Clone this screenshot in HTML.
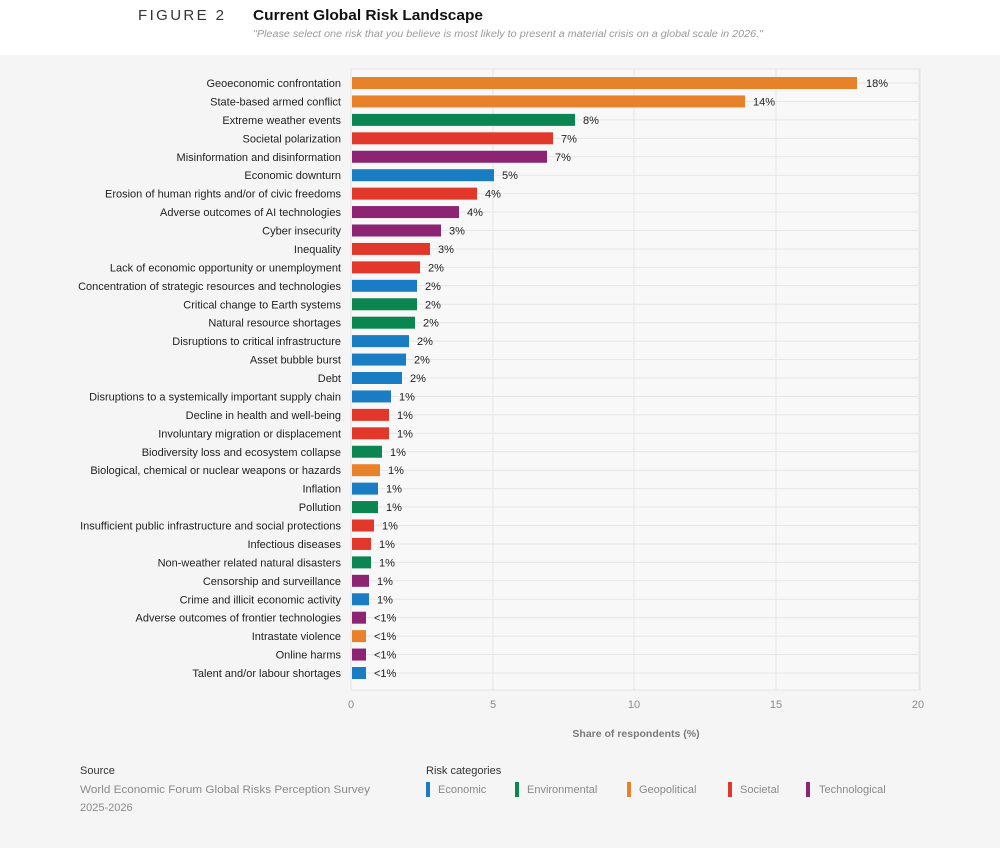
<!DOCTYPE html>
<html><head><meta charset="utf-8"><style>
html,body{margin:0;padding:0;background:#fff;}
svg{display:block;font-family:"Liberation Sans",Arial,sans-serif;}
.lb{font-size:11px;fill:#222;text-anchor:end;}
.vl{font-size:11px;fill:#222;}
.gl{stroke:#e6e6e6;stroke-width:1;}
</style></head><body>
<svg width="1000" height="848" viewBox="0 0 1000 848" xmlns="http://www.w3.org/2000/svg">
<rect x="0" y="0" width="1000" height="848" fill="#ffffff"/>
<rect x="0" y="55" width="1000" height="793" fill="#f5f5f5"/>
<text x="138" y="20" font-size="15" fill="#333" letter-spacing="2.4">FIGURE 2</text>
<text x="253" y="20" font-size="15" font-weight="bold" fill="#111" textLength="230" lengthAdjust="spacingAndGlyphs">Current Global Risk Landscape</text>
<text x="253" y="37" font-size="10" font-style="italic" fill="#9a9a9a" textLength="510" lengthAdjust="spacingAndGlyphs">"Please select one risk that you believe is most likely to present a material crisis on a global scale in 2026."</text>

<rect x="351" y="69" width="569" height="621" fill="#f8f8f8" stroke="#e4e4e4" stroke-width="1"/>
<g class="gl">
<line x1="493" y1="69" x2="493" y2="690"/>
<line x1="634" y1="69" x2="634" y2="690"/>
<line x1="776" y1="69" x2="776" y2="690"/>
<line x1="919" y1="69" x2="919" y2="690"/>
</g>
<g class="gl">
<line x1="351" x2="920" y1="83" y2="83"/><line x1="351" x2="920" y1="101.44" y2="101.44"/><line x1="351" x2="920" y1="119.88" y2="119.88"/><line x1="351" x2="920" y1="138.31" y2="138.31"/><line x1="351" x2="920" y1="156.75" y2="156.75"/><line x1="351" x2="920" y1="175.19" y2="175.19"/><line x1="351" x2="920" y1="193.63" y2="193.63"/><line x1="351" x2="920" y1="212.06" y2="212.06"/><line x1="351" x2="920" y1="230.5" y2="230.5"/><line x1="351" x2="920" y1="248.94" y2="248.94"/><line x1="351" x2="920" y1="267.38" y2="267.38"/><line x1="351" x2="920" y1="285.81" y2="285.81"/><line x1="351" x2="920" y1="304.25" y2="304.25"/><line x1="351" x2="920" y1="322.69" y2="322.69"/><line x1="351" x2="920" y1="341.13" y2="341.13"/><line x1="351" x2="920" y1="359.56" y2="359.56"/><line x1="351" x2="920" y1="378" y2="378"/><line x1="351" x2="920" y1="396.44" y2="396.44"/><line x1="351" x2="920" y1="414.88" y2="414.88"/><line x1="351" x2="920" y1="433.31" y2="433.31"/><line x1="351" x2="920" y1="451.75" y2="451.75"/><line x1="351" x2="920" y1="470.19" y2="470.19"/><line x1="351" x2="920" y1="488.63" y2="488.63"/><line x1="351" x2="920" y1="507.06" y2="507.06"/><line x1="351" x2="920" y1="525.5" y2="525.5"/><line x1="351" x2="920" y1="543.94" y2="543.94"/><line x1="351" x2="920" y1="562.38" y2="562.38"/><line x1="351" x2="920" y1="580.81" y2="580.81"/><line x1="351" x2="920" y1="599.25" y2="599.25"/><line x1="351" x2="920" y1="617.69" y2="617.69"/><line x1="351" x2="920" y1="636.13" y2="636.13"/><line x1="351" x2="920" y1="654.56" y2="654.56"/><line x1="351" x2="920" y1="673" y2="673"/>
</g>

<g transform="translate(0,83)"><text class="lb" x="341" y="4">Geoeconomic confrontation</text><rect x="352" y="-6" width="505" height="12" fill="#e8822a"/><text class="vl" x="866" y="4">18%</text></g>
<g transform="translate(0,101.44)"><text class="lb" x="341" y="4">State-based armed conflict</text><rect x="352" y="-6" width="393" height="12" fill="#e8822a"/><text class="vl" x="753" y="4">14%</text></g>
<g transform="translate(0,119.88)"><text class="lb" x="341" y="4">Extreme weather events</text><rect x="352" y="-6" width="223" height="12" fill="#0b8650"/><text class="vl" x="583" y="4">8%</text></g>
<g transform="translate(0,138.31)"><text class="lb" x="341" y="4">Societal polarization</text><rect x="352" y="-6" width="201" height="12" fill="#e2382c"/><text class="vl" x="561" y="4">7%</text></g>
<g transform="translate(0,156.75)"><text class="lb" x="341" y="4">Misinformation and disinformation</text><rect x="352" y="-6" width="195" height="12" fill="#8c2473"/><text class="vl" x="555" y="4">7%</text></g>
<g transform="translate(0,175.19)"><text class="lb" x="341" y="4">Economic downturn</text><rect x="352" y="-6" width="142" height="12" fill="#1a7dc4"/><text class="vl" x="502" y="4">5%</text></g>
<g transform="translate(0,193.63)"><text class="lb" x="341" y="4">Erosion of human rights and/or of civic freedoms</text><rect x="352" y="-6" width="125" height="12" fill="#e2382c"/><text class="vl" x="485" y="4">4%</text></g>
<g transform="translate(0,212.06)"><text class="lb" x="341" y="4">Adverse outcomes of AI technologies</text><rect x="352" y="-6" width="107" height="12" fill="#8c2473"/><text class="vl" x="467" y="4">4%</text></g>
<g transform="translate(0,230.5)"><text class="lb" x="341" y="4">Cyber insecurity</text><rect x="352" y="-6" width="89" height="12" fill="#8c2473"/><text class="vl" x="449" y="4">3%</text></g>
<g transform="translate(0,248.94)"><text class="lb" x="341" y="4">Inequality</text><rect x="352" y="-6" width="78" height="12" fill="#e2382c"/><text class="vl" x="438" y="4">3%</text></g>
<g transform="translate(0,267.38)"><text class="lb" x="341" y="4">Lack of economic opportunity or unemployment</text><rect x="352" y="-6" width="68" height="12" fill="#e2382c"/><text class="vl" x="428" y="4">2%</text></g>
<g transform="translate(0,285.81)"><text class="lb" x="341" y="4">Concentration of strategic resources and technologies</text><rect x="352" y="-6" width="65" height="12" fill="#1a7dc4"/><text class="vl" x="425" y="4">2%</text></g>
<g transform="translate(0,304.25)"><text class="lb" x="341" y="4">Critical change to Earth systems</text><rect x="352" y="-6" width="65" height="12" fill="#0b8650"/><text class="vl" x="425" y="4">2%</text></g>
<g transform="translate(0,322.69)"><text class="lb" x="341" y="4">Natural resource shortages</text><rect x="352" y="-6" width="63" height="12" fill="#0b8650"/><text class="vl" x="423" y="4">2%</text></g>
<g transform="translate(0,341.13)"><text class="lb" x="341" y="4">Disruptions to critical infrastructure</text><rect x="352" y="-6" width="57" height="12" fill="#1a7dc4"/><text class="vl" x="417" y="4">2%</text></g>
<g transform="translate(0,359.56)"><text class="lb" x="341" y="4">Asset bubble burst</text><rect x="352" y="-6" width="54" height="12" fill="#1a7dc4"/><text class="vl" x="414" y="4">2%</text></g>
<g transform="translate(0,378)"><text class="lb" x="341" y="4">Debt</text><rect x="352" y="-6" width="50" height="12" fill="#1a7dc4"/><text class="vl" x="410" y="4">2%</text></g>
<g transform="translate(0,396.44)"><text class="lb" x="341" y="4">Disruptions to a systemically important supply chain</text><rect x="352" y="-6" width="39" height="12" fill="#1a7dc4"/><text class="vl" x="399" y="4">1%</text></g>
<g transform="translate(0,414.88)"><text class="lb" x="341" y="4">Decline in health and well-being</text><rect x="352" y="-6" width="37" height="12" fill="#e2382c"/><text class="vl" x="397" y="4">1%</text></g>
<g transform="translate(0,433.31)"><text class="lb" x="341" y="4">Involuntary migration or displacement</text><rect x="352" y="-6" width="37" height="12" fill="#e2382c"/><text class="vl" x="397" y="4">1%</text></g>
<g transform="translate(0,451.75)"><text class="lb" x="341" y="4">Biodiversity loss and ecosystem collapse</text><rect x="352" y="-6" width="30" height="12" fill="#0b8650"/><text class="vl" x="390" y="4">1%</text></g>
<g transform="translate(0,470.19)"><text class="lb" x="341" y="4">Biological, chemical or nuclear weapons or hazards</text><rect x="352" y="-6" width="28" height="12" fill="#e8822a"/><text class="vl" x="388" y="4">1%</text></g>
<g transform="translate(0,488.63)"><text class="lb" x="341" y="4">Inflation</text><rect x="352" y="-6" width="26" height="12" fill="#1a7dc4"/><text class="vl" x="386" y="4">1%</text></g>
<g transform="translate(0,507.06)"><text class="lb" x="341" y="4">Pollution</text><rect x="352" y="-6" width="26" height="12" fill="#0b8650"/><text class="vl" x="386" y="4">1%</text></g>
<g transform="translate(0,525.5)"><text class="lb" x="341" y="4">Insufficient public infrastructure and social protections</text><rect x="352" y="-6" width="22" height="12" fill="#e2382c"/><text class="vl" x="382" y="4">1%</text></g>
<g transform="translate(0,543.94)"><text class="lb" x="341" y="4">Infectious diseases</text><rect x="352" y="-6" width="19" height="12" fill="#e2382c"/><text class="vl" x="379" y="4">1%</text></g>
<g transform="translate(0,562.38)"><text class="lb" x="341" y="4">Non-weather related natural disasters</text><rect x="352" y="-6" width="19" height="12" fill="#0b8650"/><text class="vl" x="379" y="4">1%</text></g>
<g transform="translate(0,580.81)"><text class="lb" x="341" y="4">Censorship and surveillance</text><rect x="352" y="-6" width="17" height="12" fill="#8c2473"/><text class="vl" x="377" y="4">1%</text></g>
<g transform="translate(0,599.25)"><text class="lb" x="341" y="4">Crime and illicit economic activity</text><rect x="352" y="-6" width="17" height="12" fill="#1a7dc4"/><text class="vl" x="377" y="4">1%</text></g>
<g transform="translate(0,617.69)"><text class="lb" x="341" y="4">Adverse outcomes of frontier technologies</text><rect x="352" y="-6" width="14" height="12" fill="#8c2473"/><text class="vl" x="374" y="4">&lt;1%</text></g>
<g transform="translate(0,636.13)"><text class="lb" x="341" y="4">Intrastate violence</text><rect x="352" y="-6" width="14" height="12" fill="#e8822a"/><text class="vl" x="374" y="4">&lt;1%</text></g>
<g transform="translate(0,654.56)"><text class="lb" x="341" y="4">Online harms</text><rect x="352" y="-6" width="14" height="12" fill="#8c2473"/><text class="vl" x="374" y="4">&lt;1%</text></g>
<g transform="translate(0,673)"><text class="lb" x="341" y="4">Talent and/or labour shortages</text><rect x="352" y="-6" width="14" height="12" fill="#1a7dc4"/><text class="vl" x="374" y="4">&lt;1%</text></g>

<g font-size="11" fill="#8a8a8a" text-anchor="middle">
<text x="351" y="708">0</text>
<text x="493" y="708">5</text>
<text x="634" y="708">10</text>
<text x="776" y="708">15</text>
<text x="918" y="708">20</text>
</g>
<text x="636" y="737" font-size="10.5" font-weight="bold" fill="#7a7a7a" text-anchor="middle">Share of respondents (%)</text>

<text x="80" y="774" font-size="11" fill="#333">Source</text>
<text x="80" y="793" font-size="11" fill="#8a8a8a" textLength="290" lengthAdjust="spacingAndGlyphs">World Economic Forum Global Risks Perception Survey</text>
<text x="80" y="811" font-size="11" fill="#8a8a8a">2025-2026</text>

<text x="426" y="774" font-size="11" fill="#333">Risk categories</text>
<rect x="426" y="782" width="4" height="15" fill="#1a7dc4"/>
<text x="438" y="793" font-size="11" fill="#8a8a8a">Economic</text>
<rect x="515" y="782" width="4" height="15" fill="#0b8650"/>
<text x="527" y="793" font-size="11" fill="#8a8a8a">Environmental</text>
<rect x="627" y="782" width="4" height="15" fill="#e8822a"/>
<text x="639" y="793" font-size="11" fill="#8a8a8a">Geopolitical</text>
<rect x="728" y="782" width="4" height="15" fill="#e2382c"/>
<text x="740" y="793" font-size="11" fill="#8a8a8a">Societal</text>
<rect x="806" y="782" width="4" height="15" fill="#8c2473"/>
<text x="819" y="793" font-size="11" fill="#8a8a8a">Technological</text>
</svg>
</body></html>
